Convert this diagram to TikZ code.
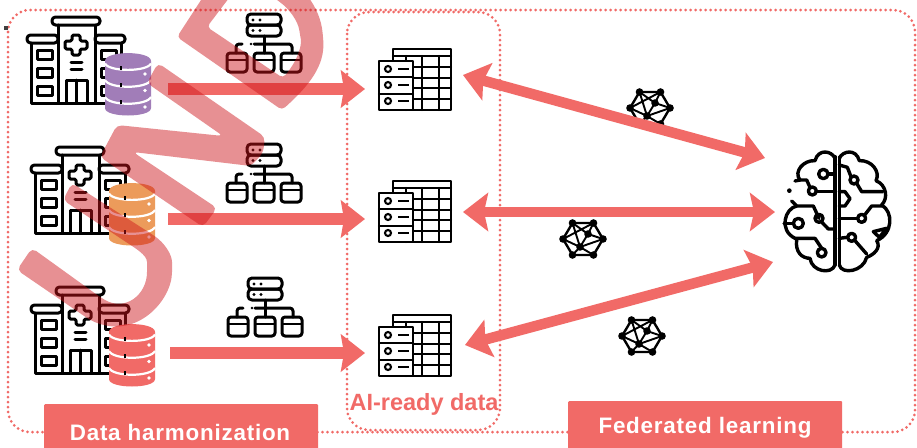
\documentclass[tikz,border=0pt]{standalone}
\usepackage{fontspec}
\setmainfont{Liberation Sans}
\usetikzlibrary{arrows.meta}
\definecolor{coral}{HTML}{F16A67}
\definecolor{dbpurple}{HTML}{A17DB8}
\definecolor{dborange}{HTML}{EC9B5B}
\definecolor{wmark}{RGB}{206,20,26}
\tikzset{
  icon/.style={draw=black,line width=3pt,line join=round,line cap=round,fill=none},
  dotbox/.style={draw=coral,line width=3pt,dash pattern=on 0pt off 5pt,line cap=round,rounded corners=22pt},
  flow/.style={draw=coral,line width=11.5pt,-{Stealth[inset=3pt,length=24pt,width=37pt]}},
  twoway/.style={draw=coral,line width=10.5pt,{Stealth[inset=4pt,length=25pt,width=38pt]}-{Stealth[inset=4pt,length=25pt,width=38pt]}},
  labelbox/.style={fill=coral,text=white,font=\fontsize{22}{24}\selectfont\bfseries,inner sep=0pt,rounded corners=1pt,anchor=north west},
  hospital/.pic={
    \draw[icon,rounded corners=3.5pt] (25,0) rectangle (73,8);
    \draw[icon,rounded corners=3.5pt] (0,18) rectangle (31,26);
    \draw[icon,rounded corners=3.5pt] (68,18) rectangle (98,26);
    \draw[icon] (31,8) -- (31,86) (68,8) -- (68,86) (4,26) -- (4,86) -- (94,86) -- (94,26);
    \draw[icon,rounded corners=1.5pt] (45,18) -- (53,18) -- (53,24) -- (60,24) -- (60,32) -- (53,32) -- (53,38) -- (45,38) -- (45,32) -- (38,32) -- (38,24) -- (45,24) -- cycle;
    \draw[icon] (44,45) -- (55,45) (44,52) -- (55,52);
    \draw[icon] (39,86) -- (39,63) -- (60,63) -- (60,86) (49.5,63) -- (49.5,86);
    \foreach \wy in {33,51,69} {
      \draw[icon] (10,\wy) rectangle (25,\wy+9);
      \draw[icon] (74,\wy) rectangle (89,\wy+9);
    }
  },
  pics/database/.style={code={
    \fill[#1] (0,8) .. controls (0,-2.5) and (46,-2.5) .. (46,8) -- (46,55) .. controls (46,65) and (0,65) .. (0,55) -- cycle;
    \draw[white,line width=2.2pt] (0,10.5) .. controls (4,19) and (42,19) .. (46,10.5);
    \draw[white,line width=2.2pt] (0,27) .. controls (4,36) and (42,36) .. (46,27);
    \draw[white,line width=2.2pt] (0,44) .. controls (4,53) and (42,53) .. (46,44);
    \fill[white] (40,21) circle (1.8) (40,37.5) circle (1.8) (40,54) circle (1.8);
    \draw[black,line width=2pt] (16,13) -- (16,16.5) (16,30) -- (16,33.5) (16,47) -- (16,50.5);
  }},
  hierarchy/.pic={
    \draw[icon,rounded corners=4pt] (21,0) rectangle (55,11);
    \draw[icon,rounded corners=4pt] (21,11) rectangle (55,22);
    \fill (27,6) circle (1.6) (34,6) circle (1.6) (27,16.5) circle (1.6) (34,16.5) circle (1.6);
    \draw[icon] (38,22) -- (38,39);
    \draw[icon,rounded corners=3pt] (28,30) -- (66,30) -- (66,39);
    \draw[icon,rounded corners=3pt] (10,39) -- (10,30) -- (16,30);
    \fill (25,30) circle (1.4);
    \foreach \bx in {1,28,55} {
      \draw[icon,rounded corners=3pt] (\bx,39) rectangle (\bx+20,58);
      \draw[icon,line width=2.2pt] (\bx,46) -- (\bx+20,46);
    }
  },
  datatable/.pic={
    \draw[icon,line width=2.4pt,fill=white] (15,1) rectangle (73,62);
    \draw[icon,line width=2.4pt] (15,8) -- (73,8);
    \draw[icon,line width=2.4pt] (28,8) -- (28,62) (44,8) -- (44,62) (61,8) -- (61,62);
    \foreach \ry in {19,30,40,51} { \draw[icon,line width=2.4pt] (15,\ry) -- (73,\ry); }
    \draw[icon,line width=2.4pt,fill=white] (1,13) rectangle (35,62);
    \draw[icon,line width=2.4pt] (1,29) -- (35,29) (1,46) -- (35,46);
    \foreach \ry in {21,37,53} {
      \draw[black,line width=2.1pt] (10,\ry) circle (3);
      \draw[black,line width=2.1pt] (20,\ry) -- (31,\ry);
    }
  },
  meshnet/.pic={
    \coordinate (n1) at (-10.5,-16);
    \coordinate (n2) at (10.5,-16);
    \coordinate (n3) at (20,0);
    \coordinate (n4) at (10.5,16);
    \coordinate (n5) at (-10.5,16);
    \coordinate (n6) at (-20,0);
    \coordinate (c1) at (5,-5);
    \coordinate (c2) at (-3,8);
    \draw[black,line width=2.4pt,line join=round] (n1) -- (n2) -- (n3) -- (n4) -- (n5) -- (n6) -- cycle;
    \draw[black,line width=1.9pt] (n1) -- (c2) (n2) -- (c1) (n3) -- (c1) (n3) -- (c2) (n4) -- (c2) (n5) -- (c2) (n6) -- (c2) (n1) -- (c1) (c1) -- (c2) (n6) -- (n2);
    \fill (n1) circle (3.8) (n2) circle (3.8) (n3) circle (3.8) (n4) circle (3.8) (n5) circle (3.8) (n6) circle (3.8) (c1) circle (3.8) (c2) circle (3.8);
  }
}
\begin{document}
\begin{tikzpicture}[x=1pt,y=-1pt]
\useasboundingbox (0,0) rectangle (917,447);
\clip (0,0) rectangle (917,447);
\fill[white] (0,0) rectangle (917,447);

% dotted frames
\draw[dotbox] (8,10) rectangle (915,432);
\draw[dotbox] (347,12) rectangle (500,430);
\fill[black!75] (4,26) rectangle (8,30);

% hospitals and databases
\pic at (27,17) {hospital};
\pic at (31,147) {hospital};
\pic at (31,287) {hospital};
\pic at (105,53) {database=dbpurple};
\pic at (109,183) {database=dborange};
\pic at (109,324) {database=coral};

% hierarchies
\pic at (226,14) {hierarchy};
\pic at (226,144) {hierarchy};
\pic at (227,278) {hierarchy};

% tables
\pic at (378,48) {datatable};
\pic at (378,180) {datatable};
\pic at (378,314) {datatable};

% networks
\pic at (650,108) {meshnet};
\pic at (583,239) {meshnet};
\pic at (642,336) {meshnet};

% brain
\begin{scope}[shift={(760,130)},x=0.3333pt,y=-0.3333pt,line width=3.4pt,line cap=round,line join=round]
  \draw (225,80) -- (225,405) (238,80) -- (238,405);
  % left hemisphere
  \draw (225,85) .. controls (215,62) and (175,55) .. (165,92) .. controls (130,90) and (100,125) .. (120,150) -- (105,153);
  \fill (88,182) circle (7);
  \draw (95,213) -- (110,228) -- (160,228) -- (177,265);
  \draw (110,228) .. controls (75,235) and (55,300) .. (105,325) -- (165,325) -- (185,355);
  \draw (110,330) .. controls (105,365) and (125,385) .. (150,385) .. controls (155,425) and (215,435) .. (225,405);
  \draw (120,150) -- (140,150) -- (150,172);
  \draw (168,185) -- (225,185);
  \draw (204,132) -- (225,132);
  \draw (72,280) -- (100,280);
  \draw (185,276) -- (205,297) -- (225,297);
  \draw (190,132) circle (14) (157,183) circle (12) (115,280) circle (15) (177,265) circle (12) (185,368) circle (13);
  % right hemisphere
  \draw (238,85) .. controls (248,62) and (288,55) .. (298,92) .. controls (335,90) and (362,125) .. (348,152) .. controls (380,165) and (385,205) .. (365,225);
  \draw (365,225) .. controls (400,245) and (400,310) .. (350,332) .. controls (365,355) and (340,375) .. (320,382) .. controls (310,425) and (245,435) .. (238,405);
  \draw (238,105) -- (262,112) -- (273,140);
  \draw (290,160) -- (305,185) -- (368,185);
  \draw (238,185) -- (255,185) -- (270,206) -- (255,228) -- (238,228);
  \draw (238,265) -- (292,265);
  \draw (314,255) -- (335,228) -- (365,228);
  \draw (238,325) -- (262,322);
  \draw (285,332) -- (320,372);
  \draw (340,305) -- (380,295) -- (358,322) -- cycle;
  \draw (282,150) circle (12) (305,265) circle (12) (275,322) circle (12);
\end{scope}

% connector ends
\coordinate (s1) at (168,89);  \coordinate (t1) at (365,89);
\coordinate (s2) at (168,219); \coordinate (t2) at (365,219);
\coordinate (s3) at (170,353); \coordinate (t3) at (365,353);
\coordinate (l1) at (463,75);  \coordinate (b1) at (765,158);
\coordinate (l2) at (463,212); \coordinate (b2) at (775,212);
\coordinate (l3) at (465,345); \coordinate (b3) at (773,262);

\draw[flow] (s1) -- (t1);
\draw[flow] (s2) -- (t2);
\draw[flow] (s3) -- (t3);
\draw[twoway] (l1) -- (b1);
\draw[twoway] (l2) -- (b2);
\draw[twoway] (l3) -- (b3);

% labels
\node[labelbox,minimum width=274pt,minimum height=60pt] (dh) at (44,404) {};
\node[labelbox,minimum width=274pt,minimum height=60pt] (fl) at (568,401) {};
\node[text=white,font=\fontsize{22.4}{24}\selectfont\bfseries,inner sep=0pt] (dht) at (180,432) {\addfontfeature{LetterSpace=3.5}Data harmonization};
\node[text=white,font=\fontsize{22.4}{24}\selectfont\bfseries,inner sep=0pt] (flt) at (705,428) {\addfontfeature{LetterSpace=3.5}Federated learning};
\node[text=coral,font=\fontsize{23.5}{24}\selectfont\bfseries,inner sep=0pt] (ai) at (424,404) {AI-ready data};

% watermark
\begin{scope}[fill=wmark,fill opacity=.47]
  \fill[rounded corners=5pt] (158,63) -- (265,137) -- (263,153) -- (251,166) -- (133,152) -- (217,208) -- (203,227) -- (100,157) -- (117,125) -- (223,136) -- (147,83) -- cycle;
  \fill[even odd rule,rounded corners=4pt] (177,37) -- (282,110) .. controls (310,85) and (325,65) .. (323,37) .. controls (320,5) and (300,-15) .. (280,-30) -- (205,-30) -- (203,-3) -- cycle
     (207,27) -- (283,78) .. controls (298,60) and (302,45) .. (300,35) .. controls (298,20) and (288,8) .. (277,0) -- (262,-12) -- (232,-6) -- cycle;
  \fill[rounded corners=5pt] (32,248) -- (100,297) .. controls (125,312) and (147,295) .. (147,267) .. controls (147,255) and (135,248) .. (123,240) -- (63,200) -- (72,183) -- (150,233) .. controls (165,243) and (172,255) .. (172,267) .. controls (172,300) and (137,340) .. (90,320) -- (17,270) -- cycle;
\end{scope}
\end{tikzpicture}
\end{document}
